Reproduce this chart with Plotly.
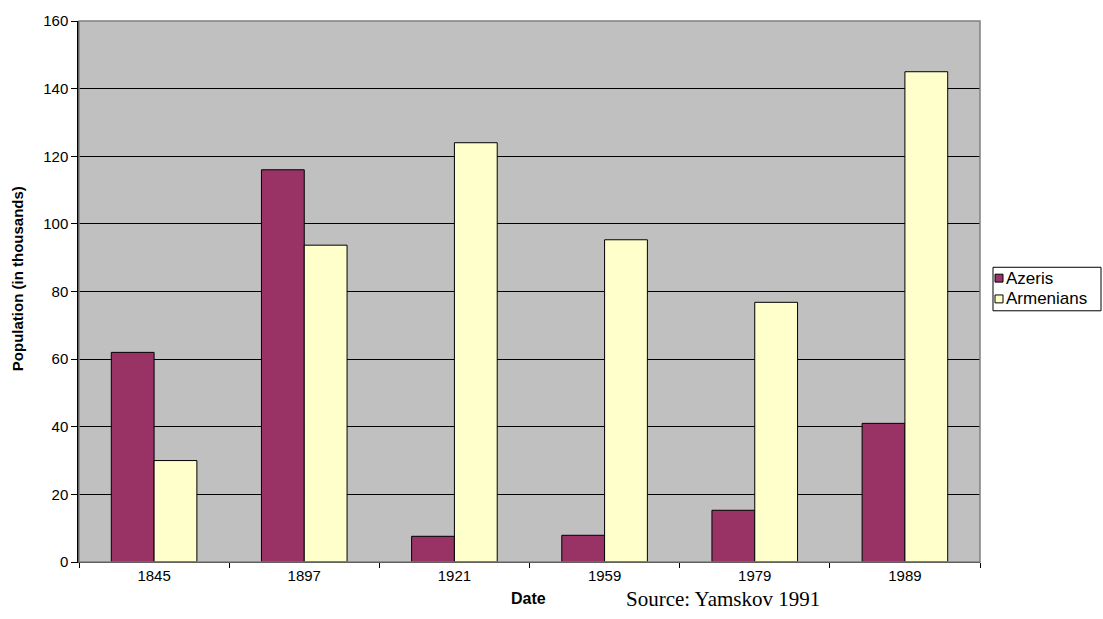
import plotly.graph_objects as go

# Population of Azeris and Armenians (thousands) by census year
years = ["1845", "1897", "1921", "1959", "1979", "1989"]
azeris = [62, 116, 7.6, 7.9, 15.3, 41]
armenians = [30, 93.7, 124, 95.3, 76.8, 145]
series_names = ["Azeris", "Armenians"]
series_colors = ["#993366", "#FFFFCC"]

W, H = 1103, 619
L, R, T, B = 79, 123, 15, 57
pw, ph = W - L - R, H - T - B


def px_x(x):
    return (x - L) / pw


def px_y(y):
    return (H - B - y) / ph


fig = go.Figure()
for name, vals, col in zip(series_names, [azeris, armenians], series_colors):
    fig.add_trace(go.Bar(
        x=years, y=vals, name=name,
        marker=dict(color=col, line=dict(color="black", width=1)),
        showlegend=False,
    ))

font = "Arial, Liberation Sans, sans-serif"

shapes = [
    # plot frame
    dict(type="rect", xref="paper", yref="paper", x0=0, x1=1, y0=0, y1=1,
         line=dict(color="#808080", width=1.5), layer="above"),
]
annotations = []

# legend box
shapes.append(dict(type="rect", xref="paper", yref="paper",
                   x0=px_x(993), x1=px_x(1101), y0=px_y(308), y1=px_y(264),
                   line=dict(color="black", width=1), fillcolor="white"))
for i, (name, col) in enumerate(zip(series_names, series_colors)):
    cy = 275 + i * 21
    shapes.append(dict(type="rect", xref="paper", yref="paper",
                       x0=px_x(995), x1=px_x(1003), y0=px_y(cy + 4), y1=px_y(cy - 4),
                       line=dict(color="black", width=1), fillcolor=col))
    annotations.append(dict(text=name, xref="paper", yref="paper",
                            x=px_x(1004), y=px_y(cy), xanchor="left", yanchor="middle",
                            showarrow=False, font=dict(family=font, size=17, color="black")))

annotations += [
    dict(text="<b>Population (in thousands)</b>", xref="paper", yref="paper",
         x=px_x(17), y=px_y(276), textangle=-90, showarrow=False,
         xanchor="center", yanchor="middle",
         font=dict(family=font, size=15, color="black")),
    dict(text="<b>Date</b>", xref="paper", yref="paper",
         x=px_x(528), y=px_y(599), showarrow=False,
         xanchor="center", yanchor="middle",
         font=dict(family=font, size=16, color="black")),
    dict(text="Source: Yamskov 1991", xref="paper", yref="paper",
         x=px_x(624), y=px_y(599), showarrow=False,
         xanchor="left", yanchor="middle",
         font=dict(family="Times New Roman, Liberation Serif, serif", size=21, color="black")),
]

fig.update_layout(
    width=W, height=H,
    margin=dict(l=L, r=R, t=T, b=B),
    paper_bgcolor="white",
    plot_bgcolor="#C0C0C0",
    barmode="group",
    bargap=0.43,
    bargroupgap=0,
    shapes=shapes,
    annotations=annotations,
    font=dict(family=font, size=15, color="black"),
)
fig.update_xaxes(
    type="category",
    tickson="boundaries",
    ticks="outside", ticklen=5, tickcolor="black",
    showline=True, linecolor="black", linewidth=1,
    showgrid=False,
    tickfont=dict(family=font, size=15, color="black"),
)
fig.update_yaxes(
    range=[0, 160], dtick=20,
    ticks="outside", ticklen=6, tickcolor="black",
    showline=True, linecolor="black", linewidth=1.5,
    showgrid=True, gridcolor="black", gridwidth=1,
    zeroline=False,
    tickfont=dict(family=font, size=15, color="black"),
)

fig.write_html("out.html")
